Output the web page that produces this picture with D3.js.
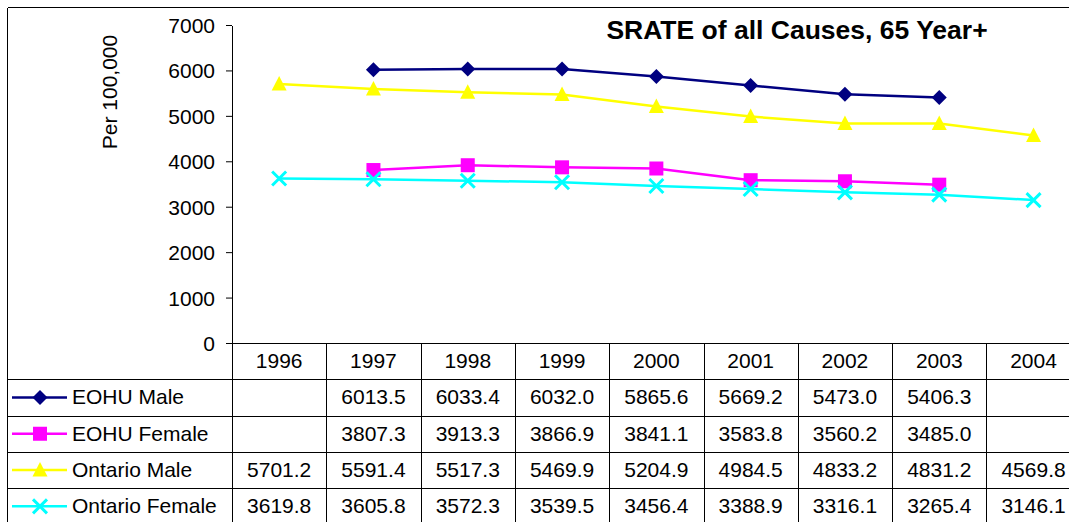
<!DOCTYPE html>
<html>
<head>
<meta charset="utf-8">
<title>SRATE of all Causes, 65 Year+</title>
<style>
  body { margin: 0; background: #fff; }
  svg { display: block; font-family: "Liberation Sans", Arial, sans-serif; }
  .axis text { font-size: 21px; fill: #000; }
  .axis path, .axis line { stroke: #000; stroke-width: 1; }
  .grid { stroke: #000; stroke-width: 1; shape-rendering: crispEdges; }
</style>
</head>
<body>
<svg width="1069" height="522"></svg>
<script src="https://d3js.org/d3.v7.min.js"></script>
<script>
var years = ["1996", "1997", "1998", "1999", "2000", "2001", "2002", "2003", "2004"];
var eohuMale     = [null, 6013.5, 6033.4, 6032.0, 5865.6, 5669.2, 5473.0, 5406.3, null];
var eohuFemale   = [null, 3807.3, 3913.3, 3866.9, 3841.1, 3583.8, 3560.2, 3485.0, null];
var ontarioMale  = [5701.2, 5591.4, 5517.3, 5469.9, 5204.9, 4984.5, 4833.2, 4831.2, 4569.8];
var ontarioFemale= [3619.8, 3605.8, 3572.3, 3539.5, 3456.4, 3388.9, 3316.1, 3265.4, 3146.1];
var yTicks = [0, 1000, 2000, 3000, 4000, 5000, 6000, 7000];

var series = [
  {name: "EOHU Male", values: eohuMale, color: "#000080", marker: "diamond"},
  {name: "EOHU Female", values: eohuFemale, color: "#FF00FF", marker: "square"},
  {name: "Ontario Male", values: ontarioMale, color: "#FFFF00", marker: "triangle"},
  {name: "Ontario Female", values: ontarioFemale, color: "#00FFFF", marker: "x"}
];

var svg = d3.select("svg");

// plot area runs a little past the right edge of the picture
var plotLeft = 232, bandW = 94.3;
var plotTop = 25, plotBottom = 343;
var rowH = 36.3;

var x = d3.scaleBand()
    .domain(years)
    .range([plotLeft, plotLeft + bandW * years.length]);

var y = d3.scaleLinear()
    .domain([0, 7000])
    .range([plotBottom, plotTop]);

function cx(i) { return x(years[i]) + x.bandwidth() / 2; }

// outer border
svg.append("line").attr("class", "grid")
    .attr("x1", 7.5).attr("x2", 1069).attr("y1", 7.5).attr("y2", 7.5)
    .attr("stroke", "#333");
svg.append("line").attr("class", "grid")
    .attr("x1", 7.5).attr("x2", 7.5).attr("y1", 7.5).attr("y2", 522)
    .attr("stroke", "#333");

// title
svg.append("text")
    .attr("x", 797)
    .attr("y", 39)
    .attr("text-anchor", "middle")
    .attr("font-size", 26.5)
    .attr("font-weight", "bold")
    .text("SRATE of all Causes, 65 Year+");

// y axis
var yAxis = svg.append("g")
    .attr("class", "axis")
    .attr("transform", "translate(" + plotLeft + ",0)")
    .call(d3.axisLeft(y).tickValues(yTicks).tickFormat(d3.format("d"))
      .tickSize(6).tickSizeOuter(0).tickPadding(11));
yAxis.selectAll("text").attr("dy", "0.36em");
yAxis.select(".domain").attr("shape-rendering", "crispEdges");

svg.append("text")
    .attr("transform", "translate(117,92) rotate(-90)")
    .attr("text-anchor", "middle")
    .attr("font-size", 21)
    .text("Per 100,000");

// data table under the plot
var tableBottom = plotBottom + rowH * (series.length + 1);

svg.append("line").attr("class", "grid")
    .attr("x1", plotLeft - 6).attr("x2", 1069)
    .attr("y1", plotBottom + 0.5).attr("y2", plotBottom + 0.5);

svg.selectAll(".rowline")
  .data(series)
  .enter().append("line")
    .attr("class", "grid rowline")
    .attr("x1", 7.5).attr("x2", 1069)
    .attr("y1", function(d, i) { return Math.round(plotBottom + rowH * (i + 1)) + 0.5; })
    .attr("y2", function(d, i) { return Math.round(plotBottom + rowH * (i + 1)) + 0.5; });

svg.selectAll(".colline")
  .data(years.concat(["end"]))
  .enter().append("line")
    .attr("class", "grid colline")
    .attr("x1", function(d, i) { return Math.round(plotLeft + bandW * i) + 0.5; })
    .attr("x2", function(d, i) { return Math.round(plotLeft + bandW * i) + 0.5; })
    .attr("y1", plotBottom)
    .attr("y2", tableBottom);

svg.selectAll(".yearlabel")
  .data(years)
  .enter().append("text")
    .attr("class", "yearlabel")
    .attr("x", function(d, i) { return cx(i); })
    .attr("y", plotBottom + rowH / 2 + 7)
    .attr("text-anchor", "middle")
    .attr("font-size", 21)
    .text(function(d) { return d; });

var rows = svg.selectAll(".row")
  .data(series)
  .enter().append("g")
    .attr("class", "row")
    .attr("transform", function(d, i) {
      return "translate(0," + (plotBottom + rowH * (i + 1) + rowH / 2) + ")";
    });

rows.append("text")
    .attr("x", 72)
    .attr("y", 7)
    .attr("font-size", 21)
    .text(function(d) { return d.name; });

rows.selectAll(".val")
  .data(function(d) { return d.values; })
  .enter().append("text")
    .attr("class", "val")
    .attr("x", function(d, i) { return cx(i); })
    .attr("y", 7)
    .attr("text-anchor", "middle")
    .attr("font-size", 21)
    .text(function(d) { return d == null ? "" : d.toFixed(1); });

// markers
function drawMarker(g, type, color) {
  if (type === "diamond") {
    g.append("path").attr("d", "M0,-7.5L7.5,0L0,7.5L-7.5,0Z").attr("fill", color);
  } else if (type === "square") {
    g.append("rect").attr("x", -7).attr("y", -7).attr("width", 14).attr("height", 14).attr("fill", color);
  } else if (type === "triangle") {
    g.append("path").attr("d", "M0,-8L7.5,6.5L-7.5,6.5Z").attr("fill", color);
  } else {
    g.append("path").attr("d", "M-7,-7L7,7M-7,7L7,-7")
      .attr("stroke", color).attr("stroke-width", 3).attr("fill", "none");
  }
}

// legend keys
rows.append("line")
    .attr("x1", 12).attr("x2", 67)
    .attr("stroke", function(d) { return d.color; })
    .attr("stroke-width", 2.5);
rows.each(function(d) {
  drawMarker(d3.select(this).append("g").attr("transform", "translate(40,0)"), d.marker, d.color);
});

// lines
var line = d3.line()
    .defined(function(d) { return d != null; })
    .x(function(d, i) { return cx(i); })
    .y(function(d) { return y(d); });

var plot = svg.selectAll(".series")
  .data(series)
  .enter().append("g")
    .attr("class", "series");

plot.append("path")
    .attr("fill", "none")
    .attr("stroke", function(d) { return d.color; })
    .attr("stroke-width", 2.5)
    .attr("d", function(d) { return line(d.values); });

plot.each(function(s) {
  var g = d3.select(this);
  s.values.forEach(function(v, i) {
    if (v == null) return;
    drawMarker(g.append("g").attr("transform", "translate(" + cx(i) + "," + y(v) + ")"), s.marker, s.color);
  });
});
</script>
</body>
</html>
